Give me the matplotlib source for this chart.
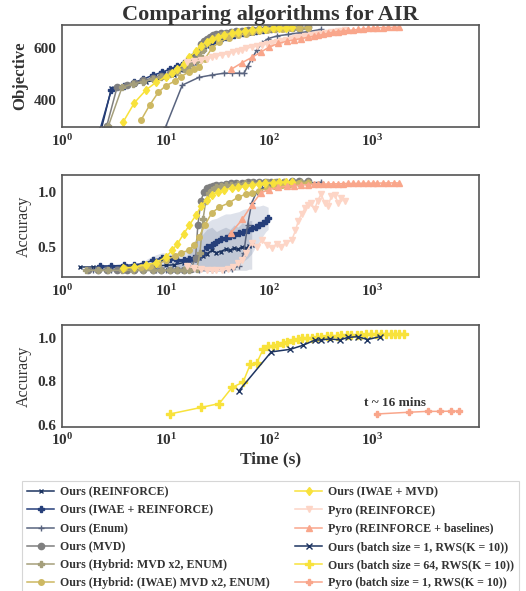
import numpy as np
import matplotlib
matplotlib.use("Agg")
import matplotlib.pyplot as plt
from matplotlib.ticker import FuncFormatter, FixedLocator, NullLocator

plt.rcParams["font.family"] = ["Liberation Serif", "DejaVu Serif"]
plt.rcParams["mathtext.fontset"] = "custom"
plt.rcParams["mathtext.rm"] = "Liberation Serif"
plt.rcParams["mathtext.bf"] = "Liberation Serif:bold"
plt.rcParams["text.color"] = "#333333"
plt.rcParams["axes.labelcolor"] = "#333333"
plt.rcParams["xtick.color"] = "#333333"
plt.rcParams["ytick.color"] = "#333333"

# ---- data ----
# each series: time (s), objective, accuracy
t_reinf = [1.5, 2.0, 2.4, 3.0, 4, 5, 6.5, 8, 10, 12, 15, 17, 19, 21, 23, 25, 28, 31, 34, 38, 42, 46, 50, 55, 60, 64, 68]
obj_reinf = [150, 220, 290, 446, 455, 462, 470, 478, 488, 498, 515, 528, 545, 575, 595, 608, 622, 630, 636, 641, 646, 650, 653, 656, 658, 660, 661]
acc_reinf = [0.32, 0.32, 0.32, 0.32, 0.32, 0.325, 0.33, 0.33, 0.335, 0.34, 0.36, 0.37, 0.38, 0.40, 0.42, 0.44, 0.47, 0.45, 0.46, 0.48, 0.47, 0.49, 0.48, 0.50, 0.49, 0.51, 0.52]
lo_reinf = [0.32, 0.32, 0.32, 0.32, 0.32, 0.32, 0.32, 0.32, 0.32, 0.31, 0.30, 0.29, 0.28, 0.28, 0.28, 0.28, 0.28, 0.28, 0.28, 0.28, 0.28, 0.29, 0.29, 0.29, 0.29, 0.30, 0.30]
hi_reinf = [0.32, 0.32, 0.32, 0.32, 0.32, 0.33, 0.34, 0.34, 0.35, 0.37, 0.40, 0.45, 0.52, 0.58, 0.62, 0.66, 0.68, 0.64, 0.66, 0.68, 0.66, 0.70, 0.68, 0.72, 0.70, 0.74, 0.74]

t_iwae_reinf = [2.3, 3, 4, 5, 6, 7.5, 9.3, 11, 13, 15, 17, 19, 21, 23, 25, 28, 31, 34, 38, 42, 46, 51, 56, 62, 68, 74, 80, 87, 93, 98]
obj_iwae_reinf = [280, 440, 455, 469, 480, 496, 508, 520, 532, 545, 560, 575, 590, 605, 615, 625, 632, 638, 644, 649, 653, 657, 660, 663, 666, 668, 670, 672, 673, 674]
acc_iwae_reinf = [0.33, 0.33, 0.335, 0.34, 0.35, 0.38, 0.40, 0.39, 0.38, 0.38, 0.39, 0.40, 0.42, 0.45, 0.50, 0.52, 0.55, 0.57, 0.58, 0.60, 0.61, 0.63, 0.64, 0.65, 0.67, 0.68, 0.70, 0.72, 0.74, 0.76]
lo_iwae_reinf = [0.33, 0.33, 0.33, 0.33, 0.33, 0.34, 0.35, 0.33, 0.31, 0.29, 0.28, 0.27, 0.27, 0.28, 0.28, 0.29, 0.30, 0.30, 0.31, 0.32, 0.33, 0.35, 0.37, 0.40, 0.44, 0.50, 0.55, 0.60, 0.64, 0.66]
hi_iwae_reinf = [0.33, 0.33, 0.34, 0.35, 0.37, 0.42, 0.45, 0.44, 0.43, 0.45, 0.50, 0.56, 0.62, 0.68, 0.72, 0.75, 0.76, 0.78, 0.80, 0.80, 0.81, 0.82, 0.84, 0.85, 0.86, 0.87, 0.87, 0.88, 0.87, 0.86]

t_enum = [2, 3, 4, 6, 8, 10, 14.5, 21, 28, 36.6, 44, 51, 57, 62, 68, 76, 85, 98, 120, 154, 195, 240, 318]
obj_enum = [100, 150, 200, 240, 270, 296, 458, 488, 497, 504, 504, 504, 503, 530, 560, 592, 620, 638, 648, 654, 660, 665, 673]
acc_enum = [0.29, 0.29, 0.29, 0.29, 0.29, 0.29, 0.29, 0.29, 0.29, 0.29, 0.30, 0.33, 0.45, 0.70, 0.90, 1.00, 1.03, 1.05, 1.06, 1.07, 1.075, 1.08, 1.085]

t_mvd = [1.8, 2.2, 2.7, 3.4, 4.2, 5, 6, 7.5, 9, 11, 13, 15, 17.5, 19.5, 20.5, 22, 23.5, 25, 27, 29, 31, 34, 38, 43, 48, 55, 62, 70, 80, 92, 105, 120, 140, 165, 195, 240]
obj_mvd = [200, 250, 300, 450, 460, 468, 476, 485, 495, 505, 515, 530, 545, 565, 590, 615, 630, 638, 645, 650, 655, 658, 661, 664, 666, 668, 670, 672, 673, 675, 676, 677, 678, 679, 680, 681]
acc_mvd = [0.29, 0.29, 0.29, 0.29, 0.29, 0.29, 0.29, 0.29, 0.29, 0.29, 0.29, 0.29, 0.30, 0.40, 0.70, 0.92, 1.00, 1.03, 1.045, 1.055, 1.06, 1.065, 1.07, 1.075, 1.08, 1.08, 1.085, 1.085, 1.09, 1.09, 1.09, 1.09, 1.09, 1.095, 1.095, 1.095]

t_hyb = [1.7, 2.2, 2.8, 3.8, 4.8, 6, 7.5, 9, 11, 13, 15, 17, 20, 21.5, 23, 24.5, 26, 28, 31, 34, 38, 43, 50, 58, 68, 80, 95, 115, 140, 170, 205, 240]
obj_hyb = [200, 250, 300, 450, 462, 470, 480, 490, 500, 510, 522, 535, 550, 570, 595, 615, 628, 636, 644, 650, 655, 659, 663, 666, 669, 672, 674, 676, 678, 679, 680, 681]
acc_hyb = [0.29, 0.29, 0.29, 0.29, 0.29, 0.29, 0.29, 0.29, 0.29, 0.29, 0.29, 0.29, 0.30, 0.45, 0.75, 0.92, 0.99, 1.02, 1.04, 1.055, 1.06, 1.065, 1.07, 1.075, 1.08, 1.08, 1.085, 1.085, 1.09, 1.09, 1.09, 1.09]

t_hyb_iwae = [4, 5.8, 7, 8.5, 10, 12.2, 14, 16.9, 19, 21, 24, 28, 33, 41, 50, 60, 68, 80, 95, 112, 133, 160, 195, 240]
obj_hyb_iwae = [np.nan, 323, 380, 430, 455, 473, 490, 510, 520, 527, 560, 600, 625, 640, 650, 657, 662, 667, 671, 674, 676, 678, 679, 680]
acc_hyb_iwae = [0.31, 0.32, 0.33, 0.35, 0.38, 0.42, 0.45, 0.47, 0.52, 0.59, 0.70, 0.81, 0.86, 0.90, 0.95, 0.98, 0.99, 1.01, 1.03, 1.05, 1.06, 1.07, 1.075, 1.08]

t_iwae_mvd = [3.9, 5, 6.5, 8.1, 10, 11.6, 13, 15, 17, 19.7, 22, 25, 28, 32, 37, 43.6, 50, 58, 68, 80, 92, 108, 125, 145, 165]
obj_iwae_mvd = [316, 390, 440, 469, 490, 505, 520, 540, 565, 590, 610, 625, 635, 645, 652, 658, 663, 667, 671, 674, 676, 678, 679, 680, 681]
acc_iwae_mvd = [0.31, 0.32, 0.34, 0.36, 0.41, 0.47, 0.53, 0.62, 0.70, 0.79, 0.87, 0.93, 0.97, 1.00, 1.02, 1.03, 1.045, 1.055, 1.065, 1.07, 1.08, 1.08, 1.085, 1.09, 1.09]

t_pyro = [16, 19, 22, 25, 28, 31, 35, 40, 45, 50, 55, 60, 68, 76, 85, 95, 106, 118, 130, 145, 165, 180, 192, 207, 222, 240, 255, 275, 295, 318, 345, 370, 400, 430, 465, 500, 540]
obj_pyro = [546, 550, 555, 560, 565, 570, 575, 580, 585, 590, 595, 600, 605, 610, 614, 618, 622, 626, 630, 634, 638, 641, 643, 645, 647, 649, 651, 653, 655, 657, 659, 661, 663, 665, 667, 668, 669]
acc_pyro = [0.33, 0.31, 0.30, 0.29, 0.29, 0.29, 0.29, 0.30, 0.32, 0.36, 0.38, 0.45, 0.54, 0.50, 0.56, 0.52, 0.49, 0.53, 0.50, 0.54, 0.56, 0.65, 0.74, 0.80, 0.85, 0.88, 0.90, 0.84, 0.92, 0.98, 0.90, 0.87, 0.96, 0.97, 0.90, 0.94, 0.92]

t_pyro_base = [43, 55, 68, 83, 100, 123, 150, 175, 205, 240, 270, 298, 335, 370, 415, 464, 520, 580, 650, 720, 800, 900, 1000, 1115, 1250, 1400, 1600, 1800]
obj_pyro_base = [519, 545, 565, 585, 605, 619, 628, 633, 638, 643, 647, 650, 654, 658, 662, 665, 667, 669, 671, 673, 675, 677, 678, 680, 680, 681, 681, 682]
acc_pyro_base = [0.63, 0.75, 0.88, 0.99, 1.02, 1.04, 1.05, 1.055, 1.06, 1.065, 1.068, 1.07, 1.07, 1.07, 1.072, 1.072, 1.074, 1.075, 1.075, 1.076, 1.077, 1.078, 1.078, 1.078, 1.079, 1.08, 1.08, 1.08]

# batch-size comparison (bottom panel)
t_b1 = [51, 105, 161, 214, 278, 317, 388, 484, 577, 718, 893, 1170]
acc_b1 = [0.756, 0.936, 0.948, 0.967, 0.991, 0.991, 0.996, 0.991, 1.003, 1.006, 0.993, 1.006]

t_b64 = [11, 22, 33, 44, 56, 66, 76, 88, 98, 110, 120, 135, 150, 170, 190, 210, 235, 260, 290, 320, 360, 400, 450, 500, 560, 620, 700, 780, 870, 970, 1080, 1200, 1340, 1500, 1650, 1800, 2000]
acc_b64 = [0.65, 0.68, 0.698, 0.773, 0.796, 0.88, 0.885, 0.95, 0.963, 0.965, 0.97, 0.975, 0.98, 0.99, 0.995, 1.0, 1.0, 1.002, 1.004, 1.006, 1.008, 1.01, 1.01, 1.012, 1.013, 1.014, 1.015, 1.016, 1.017, 1.017, 1.018, 1.018, 1.019, 1.019, 1.02, 1.02, 1.02]

t_pyro_b1 = [1100, 2250, 3400, 4500, 5700, 6900]
acc_pyro_b1 = [0.65, 0.658, 0.662, 0.662, 0.663, 0.663]

NAVY = "#1d3461"
NAVY2 = "#263f7a"
SLATE = "#59647f"
GRAY = "#7f7f7f"
TAN = "#a59f7b"
KHAKI = "#cdb862"
YELLOW = "#f8e23b"
PEACH = "#fdd5c6"
SALMON = "#f9a68b"


def style_axes(ax, ylim, yticks):
    ax.set_xscale("log")
    ax.set_xlim(1, 10 ** 4.03)
    ax.set_ylim(*ylim)
    ax.xaxis.set_major_locator(FixedLocator([1, 10, 100, 1000]))
    ax.xaxis.set_minor_locator(NullLocator())
    ax.xaxis.set_major_formatter(FuncFormatter(lambda v, p: r"$\mathbf{10^{%d}}$" % int(round(np.log10(v)))))
    ax.set_yticks(yticks)
    ax.tick_params(length=0, labelsize=11, pad=4)
    for lab in ax.get_yticklabels():
        lab.set_fontweight("bold")
    for s in ax.spines.values():
        s.set_color("#555555")
        s.set_linewidth(1.2)


fig = plt.figure(figsize=(5.26, 5.91), dpi=100)
ax1 = fig.add_axes([0.118, 0.785, 0.793, 0.1726])
ax2 = fig.add_axes([0.118, 0.531, 0.793, 0.1726])
ax3 = fig.add_axes([0.118, 0.2775, 0.793, 0.1726])

series = [
    ("Ours (REINFORCE)", t_reinf, obj_reinf, acc_reinf, NAVY, "x", 3.5),
    ("Ours (IWAE + REINFORCE)", t_iwae_reinf, obj_iwae_reinf, acc_iwae_reinf, NAVY2, "P", 4),
    ("Ours (Enum)", t_enum, obj_enum, acc_enum, SLATE, "+", 4),
    ("Ours (MVD)", t_mvd, obj_mvd, acc_mvd, GRAY, "o", 4.5),
    ("Ours (Hybrid: MVD x2, ENUM)", t_hyb, obj_hyb, acc_hyb, TAN, "P", 4.5),
    ("Ours (Hybrid: (IWAE) MVD x2, ENUM)", t_hyb_iwae, obj_hyb_iwae, acc_hyb_iwae, KHAKI, "o", 4),
    ("Ours (IWAE + MVD)", t_iwae_mvd, obj_iwae_mvd, acc_iwae_mvd, YELLOW, "d", 4.5),
    ("Pyro (REINFORCE)", t_pyro, obj_pyro, acc_pyro, PEACH, "v", 4),
    ("Pyro (REINFORCE + baselines)", t_pyro_base, obj_pyro_base, acc_pyro_base, SALMON, "^", 4),
]

ax2.fill_between(t_reinf, lo_reinf, hi_reinf, color=NAVY, alpha=0.15, lw=0)
ax2.fill_between(t_iwae_reinf, lo_iwae_reinf, hi_iwae_reinf, color=NAVY2, alpha=0.15, lw=0)

handles = []
for label, t, obj, acc, col, mk, ms in series:
    h, = ax1.plot(t, obj, color=col, marker=mk, markersize=ms, lw=1.1, label=label)
    ax2.plot(t, acc, color=col, marker=mk, markersize=ms, lw=1.1)
    handles.append(h)

h, = ax3.plot(t_b1, acc_b1, color=NAVY, marker="x", markersize=4.5, lw=1.1, label="Ours (batch size = 1, RWS(K = 10))", zorder=3)
handles.append(h)
h, = ax3.plot(t_b64, acc_b64, color=YELLOW, marker="P", markersize=6, lw=1.1, label="Ours (batch size = 64, RWS(K = 10))")
handles.append(h)
h, = ax3.plot(t_pyro_b1, acc_pyro_b1, color=SALMON, marker="P", markersize=5, lw=1.1, label="Pyro (batch size = 1, RWS(K = 10))")
handles.append(h)
ax3.text(1650, 0.70, "t ~ 16 mins", fontsize=9.5, fontweight="bold", ha="center", va="center")

style_axes(ax1, (296, 690), [400, 600])
style_axes(ax2, (0.228, 1.15), [0.5, 1.0])
style_axes(ax3, (0.59, 1.06), [0.6, 0.8, 1.0])

ax1.set_ylabel("Objective", fontsize=12, fontweight="bold")
ax2.set_ylabel("Accuracy", fontsize=11.5)
ax3.set_ylabel("Accuracy", fontsize=11.5)
ax3.set_xlabel("Time (s)", fontsize=12.5, fontweight="bold", labelpad=2)
ax1.set_title("Comparing algorithms for AIR", fontsize=16, fontweight="bold", pad=3)

leg = fig.legend(handles=handles, loc="upper left",
                 bbox_to_anchor=(22 / 526, 1 - 590 / 591, 497 / 526, 109 / 591), mode="expand", ncol=2,
                 prop={"weight": "bold", "size": 8.6}, frameon=True, fancybox=False,
                 handlelength=2.2, handletextpad=0.5, columnspacing=1.5, labelspacing=0.52,
                 borderpad=0.45, borderaxespad=0)
leg.get_frame().set_edgecolor("#cccccc")
leg.get_frame().set_linewidth(0.8)

fig.savefig("out.png", dpi=100)
